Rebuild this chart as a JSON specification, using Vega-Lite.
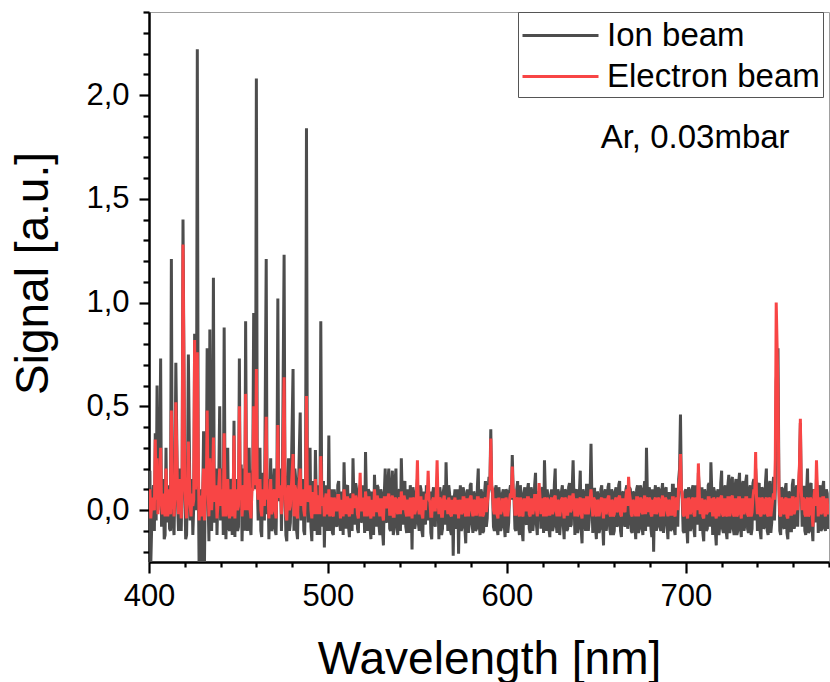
{
"$schema": "https://vega.github.io/schema/vega-lite/v6.json",
"width": 680, "height": 550,
"autosize": {"type": "none"},
"padding": {"left": 149, "top": 12, "right": 1, "bottom": 120},
"background": "white",
"config": {
  "font": "Liberation Sans",
  "view": {"stroke": "#a0a0a0", "strokeWidth": 1},
  "axis": {"domainColor": "black", "tickColor": "black", "labelColor": "black", "titleColor": "black", "grid": false, "labelFont": "Liberation Sans", "titleFont": "Liberation Sans", "titleFontWeight": "normal", "domainWidth": 2.5, "tickWidth": 2.2, "labelOverlap": false}
},
"data": {"values": [
{"x":400,"i":0.08,"e":0.02},{"x":400.5,"i":0.19,"e":0.10},{"x":401,"i":-0.26,"e":-0.04},{"x":402,"i":0.05,"e":0.06},{"x":403,"i":-0.1,"e":0.0},{"x":403.5,"i":0.37,"e":0.34},{"x":404,"i":-0.05,"e":0.05},{"x":404.5,"i":0.6,"e":0.25},{"x":405,"i":0.0,"e":-0.02},{"x":406,"i":0.2,"e":0.12},{"x":406.5,"i":0.73,"e":0.3},{"x":407,"i":-0.08,"e":0.02},{"x":408,"i":0.15,"e":0.08},{"x":409,"i":-0.12,"e":-0.03},{"x":409.5,"i":0.3,"e":0.2},{"x":410,"i":-0.06,"e":0.04},{"x":411,"i":0.12,"e":0.1},{"x":412,"i":-0.1,"e":-0.02},{"x":412.5,"i":1.21,"e":0.48},{"x":413,"i":0.05,"e":0.1},{"x":414,"i":-0.12,"e":-0.03},{"x":415,"i":0.71,"e":0.52},{"x":416,"i":0.02,"e":0.06},{"x":417,"i":0.2,"e":0.15},{"x":418,"i":-0.1,"e":-0.04},{"x":419,"i":1.40,"e":1.28},{"x":420,"i":0.1,"e":0.12},{"x":421,"i":-0.12,"e":-0.04},{"x":422,"i":0.75,"e":0.33},{"x":423,"i":-0.05,"e":0.02},{"x":424,"i":0.15,"e":0.08},{"x":425,"i":0.02,"e":0.05},{"x":425.5,"i":0.85,"e":0.82},{"x":426,"i":0.0,"e":0.1},{"x":427,"i":2.22,"e":0.76},{"x":427.5,"i":0.2,"e":0.3},{"x":428,"i":-0.27,"e":-0.05},{"x":429,"i":0.1,"e":0.05},{"x":429.5,"i":-0.3,"e":-0.03},{"x":430.5,"i":0.38,"e":0.2},{"x":431,"i":-0.25,"e":-0.05},{"x":432,"i":0.1,"e":0.08},{"x":432.5,"i":0.78,"e":0.48},{"x":433,"i":0.05,"e":0.1},{"x":434,"i":0.87,"e":0.25},{"x":435,"i":-0.1,"e":0.0},{"x":436,"i":1.12,"e":0.35},{"x":437,"i":0.0,"e":0.08},{"x":438,"i":-0.12,"e":-0.04},{"x":439,"i":0.15,"e":0.12},{"x":439.5,"i":0.5,"e":0.2},{"x":440,"i":-0.05,"e":0.02},{"x":441,"i":0.2,"e":0.1},{"x":442,"i":0.88,"e":0.37},{"x":443,"i":-0.14,"e":-0.03},{"x":444,"i":0.3,"e":0.15},{"x":445,"i":-0.1,"e":-0.04},{"x":446,"i":0.1,"e":0.08},{"x":447,"i":-0.02,"e":0.05},{"x":447.5,"i":0.43,"e":0.36},{"x":448,"i":-0.13,"e":-0.04},{"x":449,"i":0.12,"e":0.1},{"x":450,"i":-0.08,"e":0.02},{"x":450.5,"i":0.73,"e":0.5},{"x":451,"i":0.0,"e":0.05},{"x":452,"i":-0.15,"e":-0.03},{"x":453,"i":0.2,"e":0.12},{"x":454,"i":0.91,"e":0.56},{"x":455,"i":-0.1,"e":0.0},{"x":456,"i":0.3,"e":0.18},{"x":457,"i":-0.12,"e":-0.04},{"x":458,"i":0.2,"e":0.1},{"x":458.5,"i":0.95,"e":0.5},{"x":459,"i":0.9,"e":0.2},{"x":460,"i":2.08,"e":0.68},{"x":461,"i":-0.05,"e":0.05},{"x":462,"i":0.3,"e":0.15},{"x":463,"i":-0.13,"e":-0.03},{"x":464,"i":0.1,"e":0.08},{"x":465.5,"i":1.21,"e":0.45},{"x":466,"i":-0.02,"e":0.05},{"x":467,"i":-0.14,"e":-0.04},{"x":468,"i":0.25,"e":0.15},{"x":469,"i":-0.08,"e":0.0},{"x":470,"i":0.2,"e":0.1},{"x":471,"i":-0.12,"e":-0.04},{"x":472,"i":1.02,"e":0.41},{"x":473,"i":0.05,"e":0.08},{"x":474,"i":-0.1,"e":-0.02},{"x":475.5,"i":1.23,"e":0.64},{"x":476,"i":0.1,"e":0.15},{"x":477,"i":-0.15,"e":-0.05},{"x":478,"i":0.25,"e":0.12},{"x":479,"i":-0.06,"e":0.02},{"x":480.5,"i":0.68,"e":0.27},{"x":481,"i":-0.1,"e":-0.03},{"x":482,"i":0.15,"e":0.1},{"x":483,"i":-0.14,"e":-0.04},{"x":484.5,"i":0.47,"e":0.2},{"x":485,"i":-0.05,"e":0.02},{"x":486,"i":0.15,"e":0.1},{"x":487,"i":-0.12,"e":-0.03},{"x":488,"i":1.84,"e":0.55},{"x":489,"i":-0.06,"e":0.04},{"x":490,"i":0.3,"e":0.12},{"x":491,"i":-0.15,"e":-0.04},{"x":492,"i":0.12,"e":0.08},{"x":493,"i":0.29,"e":0.15},{"x":494,"i":-0.12,"e":-0.02},{"x":495,"i":0.1,"e":0.06},{"x":496,"i":0.91,"e":0.26},{"x":497,"i":-0.08,"e":0.02},{"x":498,"i":-0.18,"e":-0.03},{"x":499,"i":0.12,"e":0.08},{"x":500,"i":-0.06,"e":0.0},{"x":500.5,"i":0.36,"e":0.1},{"x":501,"i":-0.1,"e":-0.03},
{"x":502,"i":0.1,"e":0.06},{"x":503,"i":-0.12,"e":-0.03},{"x":504,"i":0.05,"e":0.04},{"x":505,"i":-0.08,"e":0.0},{"x":506,"i":0.14,"e":0.07},{"x":507,"i":-0.1,"e":-0.04},{"x":508,"i":0.06,"e":0.03},{"x":509,"i":0.23,"e":0.1},{"x":510,"i":-0.09,"e":-0.02},{"x":511,"i":0.12,"e":0.06},{"x":512,"i":-0.13,"e":-0.03},{"x":513,"i":0.08,"e":0.05},{"x":514,"i":0.25,"e":0.08},{"x":515,"i":-0.07,"e":0.01},{"x":516,"i":0.1,"e":0.05},{"x":517,"i":-0.11,"e":-0.04},{"x":518,"i":0.12,"e":0.18},{"x":519,"i":-0.05,"e":0.0},{"x":520,"i":0.06,"e":0.04},{"x":521,"i":0.28,"e":0.09},{"x":522,"i":-0.1,"e":-0.03},{"x":523,"i":0.09,"e":0.06},{"x":524,"i":-0.14,"e":-0.04},{"x":525,"i":0.05,"e":0.03},{"x":526,"i":0.17,"e":0.1},{"x":527,"i":-0.08,"e":-0.01},{"x":528,"i":0.11,"e":0.05},{"x":529,"i":-0.12,"e":-0.03},{"x":530,"i":0.08,"e":0.05},{"x":531,"i":-0.17,"e":-0.05},{"x":532,"i":0.2,"e":0.06},{"x":533,"i":-0.06,"e":0.02},{"x":534,"i":0.2,"e":0.08},{"x":535,"i":-0.1,"e":-0.02},{"x":536,"i":0.19,"e":0.07},{"x":537,"i":-0.09,"e":-0.03},{"x":538,"i":0.2,"e":0.05},{"x":539,"i":-0.12,"e":-0.02},{"x":540,"i":0.1,"e":0.06},{"x":541,"i":0.25,"e":0.09},{"x":542,"i":-0.07,"e":0.0},{"x":543,"i":0.14,"e":0.05},{"x":544,"i":-0.11,"e":-0.03},{"x":545,"i":0.07,"e":0.04},{"x":546,"i":0.12,"e":0.06},{"x":547,"i":-0.19,"e":-0.04},{"x":548,"i":0.08,"e":0.05},{"x":549,"i":-0.06,"e":0.0},{"x":550,"i":0.15,"e":0.24},{"x":551,"i":-0.1,"e":-0.02},{"x":552,"i":0.1,"e":0.06},{"x":553,"i":-0.13,"e":-0.04},{"x":554,"i":0.06,"e":0.03},{"x":555,"i":0.12,"e":0.08},{"x":556,"i":-0.05,"e":0.19},{"x":557,"i":0.09,"e":0.04},{"x":558,"i":-0.14,"e":-0.03},{"x":559,"i":0.11,"e":0.06},{"x":560,"i":-0.08,"e":0.0},{"x":561,"i":0.13,"e":0.24},{"x":562,"i":-0.14,"e":-0.02},{"x":563,"i":0.07,"e":0.05},{"x":564,"i":-0.09,"e":-0.03},{"x":565,"i":0.12,"e":0.07},{"x":566,"i":0.23,"e":0.05},{"x":567,"i":-0.1,"e":-0.02},{"x":568,"i":0.08,"e":0.04},{"x":569,"i":-0.12,"e":-0.03},{"x":570,"i":-0.22,"e":-0.02},{"x":571,"i":0.1,"e":0.06},{"x":572,"i":-0.07,"e":0.0},{"x":573,"i":-0.21,"e":-0.04},{"x":574,"i":0.12,"e":0.05},{"x":575,"i":-0.08,"e":-0.01},{"x":576,"i":0.09,"e":0.06},{"x":577,"i":-0.16,"e":-0.03},{"x":578,"i":0.1,"e":0.05},{"x":579,"i":-0.06,"e":0.01},{"x":580,"i":0.13,"e":0.07},{"x":581,"i":-0.11,"e":-0.03},{"x":582,"i":0.07,"e":0.04},{"x":583,"i":-0.09,"e":-0.02},{"x":584,"i":0.2,"e":0.06},{"x":585,"i":-0.12,"e":-0.03},{"x":586,"i":0.08,"e":0.05},{"x":587,"i":-0.1,"e":-0.02},{"x":588,"i":0.14,"e":0.06},{"x":589,"i":-0.04,"e":0.03},{"x":590,"i":0.16,"e":0.12},{"x":591,"i":0.39,"e":0.345},{"x":592,"i":0.08,"e":0.1},{"x":593,"i":-0.1,"e":-0.02},{"x":594,"i":0.12,"e":0.05},{"x":595,"i":-0.12,"e":-0.04},{"x":596,"i":0.07,"e":0.03},{"x":597,"i":-0.08,"e":0.0},{"x":598,"i":0.1,"e":0.05},{"x":599,"i":-0.13,"e":-0.03},{"x":600,"i":0.09,"e":0.04},
{"x":601,"i":-0.06,"e":0.01},{"x":602,"i":0.12,"e":0.08},{"x":603,"i":0.265,"e":0.21},{"x":604,"i":0.05,"e":0.1},{"x":605,"i":-0.1,"e":-0.02},{"x":606,"i":0.14,"e":0.06},{"x":607,"i":-0.12,"e":-0.03},{"x":608,"i":0.07,"e":0.04},{"x":609,"i":-0.15,"e":-0.03},{"x":610,"i":0.11,"e":0.05},{"x":611,"i":-0.07,"e":0.0},{"x":612,"i":0.13,"e":0.06},{"x":613,"i":-0.11,"e":-0.03},{"x":614,"i":0.09,"e":0.05},{"x":615,"i":-0.05,"e":0.01},{"x":616,"i":0.18,"e":0.07},{"x":617,"i":-0.12,"e":-0.03},{"x":618,"i":0.08,"e":0.13},{"x":619,"i":-0.09,"e":-0.02},{"x":620,"i":0.11,"e":0.05},{"x":621,"i":0.24,"e":0.06},{"x":622,"i":-0.1,"e":-0.03},{"x":623,"i":0.06,"e":0.04},{"x":624,"i":-0.13,"e":-0.02},{"x":625,"i":0.1,"e":0.06},{"x":626,"i":-0.08,"e":0.0},{"x":627,"i":0.2,"e":0.07},{"x":628,"i":-0.11,"e":-0.03},{"x":629,"i":0.08,"e":0.04},{"x":630,"i":-0.06,"e":0.0},{"x":631,"i":0.12,"e":0.06},{"x":632,"i":-0.14,"e":-0.04},{"x":633,"i":0.09,"e":0.05},{"x":634,"i":-0.09,"e":-0.02},{"x":635,"i":0.13,"e":0.07},{"x":636,"i":-0.07,"e":0.0},{"x":637,"i":0.24,"e":0.08},{"x":638,"i":-0.12,"e":-0.03},{"x":639,"i":0.1,"e":0.05},{"x":640,"i":-0.08,"e":-0.01},{"x":641,"i":0.19,"e":0.06},{"x":642,"i":-0.16,"e":-0.04},{"x":643,"i":0.08,"e":0.05},{"x":644,"i":-0.1,"e":-0.02},{"x":645,"i":0.12,"e":0.06},{"x":646,"i":-0.05,"e":0.02},{"x":647,"i":0.32,"e":0.1},{"x":648,"i":-0.11,"e":-0.03},{"x":649,"i":0.1,"e":0.05},{"x":650,"i":-0.14,"e":-0.03},{"x":651,"i":0.07,"e":0.04},{"x":652,"i":-0.09,"e":0.0},{"x":653,"i":0.12,"e":0.06},{"x":654,"i":-0.17,"e":-0.04},{"x":655,"i":0.1,"e":0.05},{"x":656,"i":-0.06,"e":0.01},{"x":657,"i":0.13,"e":0.07},{"x":658,"i":-0.12,"e":-0.03},{"x":659,"i":0.08,"e":0.04},{"x":660,"i":-0.1,"e":-0.02},{"x":661,"i":0.11,"e":0.06},{"x":662,"i":-0.07,"e":0.0},{"x":663,"i":0.14,"e":0.07},{"x":664,"i":-0.13,"e":-0.03},{"x":665,"i":0.09,"e":0.05},{"x":666,"i":-0.08,"e":-0.01},{"x":667,"i":0.12,"e":0.1},{"x":668,"i":-0.05,"e":0.16},{"x":669,"i":0.1,"e":0.05},{"x":670,"i":-0.11,"e":-0.03},{"x":671,"i":0.08,"e":0.04},{"x":672,"i":-0.14,"e":-0.03},{"x":673,"i":0.12,"e":0.06},{"x":674,"i":-0.09,"e":0.0},{"x":675,"i":0.1,"e":0.05},{"x":676,"i":-0.12,"e":-0.02},{"x":677,"i":0.14,"e":0.07},{"x":678,"i":0.3,"e":0.06},{"x":679,"i":-0.08,"e":-0.01},{"x":680,"i":0.09,"e":0.05},{"x":681,"i":-0.13,"e":-0.03},{"x":682,"i":-0.2,"e":-0.02},{"x":683,"i":0.12,"e":0.06},{"x":684,"i":-0.07,"e":0.0},{"x":685,"i":0.1,"e":0.05},{"x":686,"i":-0.1,"e":-0.03},{"x":687,"i":0.13,"e":0.07},{"x":688,"i":-0.06,"e":0.01},{"x":689,"i":0.11,"e":0.05},{"x":690,"i":-0.14,"e":-0.03},{"x":691,"i":0.08,"e":0.04},{"x":692,"i":-0.09,"e":-0.02},{"x":693,"i":0.12,"e":0.06},{"x":694,"i":-0.12,"e":-0.03},{"x":695,"i":0.1,"e":0.06},{"x":696,"i":0.15,"e":0.12},{"x":697,"i":0.46,"e":0.27},{"x":698,"i":0.05,"e":0.08},{"x":699,"i":-0.11,"e":-0.03},{"x":700,"i":0.1,"e":0.05},
{"x":701,"i":-0.16,"e":-0.04},{"x":702,"i":0.09,"e":0.04},{"x":703,"i":-0.08,"e":0.0},{"x":704,"i":0.12,"e":0.06},{"x":705,"i":-0.13,"e":-0.03},{"x":706,"i":0.1,"e":0.05},{"x":707,"i":0.18,"e":0.225},{"x":708,"i":-0.1,"e":-0.02},{"x":709,"i":0.11,"e":0.05},{"x":710,"i":-0.15,"e":-0.04},{"x":711,"i":0.08,"e":0.04},{"x":712,"i":-0.09,"e":-0.01},{"x":713,"i":0.13,"e":0.06},{"x":714,"i":0.23,"e":0.05},{"x":715,"i":-0.12,"e":-0.03},{"x":716,"i":0.09,"e":0.05},{"x":717,"i":-0.17,"e":-0.04},{"x":718,"i":0.1,"e":0.06},{"x":719,"i":-0.07,"e":0.0},{"x":720,"i":0.19,"e":0.07},{"x":721,"i":-0.11,"e":-0.03},{"x":722,"i":0.12,"e":0.05},{"x":723,"i":-0.14,"e":-0.03},{"x":724,"i":0.17,"e":0.06},{"x":725,"i":-0.08,"e":0.0},{"x":726,"i":0.16,"e":0.07},{"x":727,"i":-0.12,"e":-0.03},{"x":728,"i":0.15,"e":0.05},{"x":729,"i":-0.1,"e":-0.02},{"x":730,"i":0.18,"e":0.06},{"x":731,"i":-0.13,"e":-0.04},{"x":732,"i":0.14,"e":0.05},{"x":733,"i":-0.07,"e":0.0},{"x":734,"i":0.17,"e":0.06},{"x":735,"i":-0.11,"e":-0.03},{"x":736,"i":0.12,"e":0.05},{"x":737,"i":-0.09,"e":-0.01},{"x":738,"i":0.15,"e":0.1},{"x":739,"i":0.2,"e":0.28},{"x":740,"i":-0.1,"e":-0.02},{"x":741,"i":0.13,"e":0.06},{"x":742,"i":-0.14,"e":-0.03},{"x":743,"i":0.1,"e":0.05},{"x":744,"i":-0.08,"e":-0.01},{"x":745,"i":0.2,"e":0.06},{"x":746,"i":-0.12,"e":-0.03},{"x":747,"i":0.14,"e":0.05},{"x":748,"i":-0.06,"e":0.01},{"x":749,"i":0.16,"e":0.08},{"x":750,"i":0.1,"e":0.25},{"x":750.5,"i":0.62,"e":1.0},{"x":751.5,"i":0.78,"e":0.58},{"x":752,"i":0.15,"e":0.1},{"x":753,"i":-0.12,"e":-0.03},{"x":754,"i":0.1,"e":0.05},{"x":755,"i":-0.09,"e":-0.02},{"x":756,"i":0.13,"e":0.06},{"x":757,"i":-0.14,"e":-0.04},{"x":758,"i":0.08,"e":0.05},{"x":759,"i":-0.1,"e":-0.02},{"x":760,"i":0.15,"e":0.06},{"x":761,"i":-0.07,"e":0.0},{"x":762,"i":0.12,"e":0.06},{"x":763,"i":0.1,"e":0.12},{"x":764,"i":0.42,"e":0.44},{"x":765,"i":-0.08,"e":0.0},{"x":766,"i":0.11,"e":0.05},{"x":767,"i":-0.12,"e":-0.03},{"x":768,"i":0.2,"e":0.06},{"x":769,"i":-0.1,"e":-0.02},{"x":770,"i":0.13,"e":0.05},{"x":771,"i":-0.15,"e":-0.08},{"x":772,"i":0.09,"e":0.1},{"x":773,"i":0.15,"e":0.24},{"x":774,"i":-0.11,"e":-0.03},{"x":775,"i":0.12,"e":0.06},{"x":776,"i":-0.09,"e":-0.01},{"x":777,"i":0.14,"e":0.06},{"x":778,"i":-0.1,"e":-0.03},{"x":779,"i":0.08,"e":0.05},{"x":780,"i":-0.05,"e":0.0},
{"x":401.5,"i":-0.08,"e":0.03},{"x":402.5,"i":0.12,"e":0.02},{"x":405.5,"i":0.1,"e":0.06},{"x":407.5,"i":0.05,"e":-0.02},{"x":408.5,"i":-0.14,"e":0.0},{"x":410.5,"i":0.08,"e":-0.03},{"x":411.5,"i":-0.09,"e":0.02},{"x":413.5,"i":-0.06,"e":0.04},{"x":414.5,"i":0.15,"e":0.08},{"x":416.5,"i":-0.1,"e":-0.02},{"x":417.5,"i":-0.05,"e":0.05},{"x":418.5,"i":0.12,"e":0.1},{"x":420.5,"i":-0.14,"e":0.03},{"x":421.5,"i":0.13,"e":0.08},{"x":423.5,"i":0.08,"e":-0.03},{"x":424.5,"i":-0.12,"e":0.02},{"x":426.5,"i":0.15,"e":0.2},{"x":428.5,"i":0.05,"e":0.07},{"x":431.5,"i":0.15,"e":0.1},{"x":433.5,"i":-0.15,"e":-0.03},{"x":434.5,"i":0.1,"e":0.06},{"x":435.5,"i":0.18,"e":0.1},{"x":436.5,"i":-0.06,"e":0.04},{"x":437.5,"i":0.2,"e":0.12},{"x":438.5,"i":0.08,"e":0.02},{"x":440.5,"i":0.12,"e":0.08},{"x":441.5,"i":-0.12,"e":-0.03},{"x":442.5,"i":0.1,"e":0.1},{"x":443.5,"i":0.12,"e":0.06},{"x":444.5,"i":-0.08,"e":0.0},{"x":445.5,"i":0.15,"e":0.1},{"x":446.5,"i":-0.12,"e":-0.03},{"x":448.5,"i":0.15,"e":0.08},{"x":449.5,"i":-0.1,"e":0.0},{"x":451.5,"i":0.22,"e":0.12},{"x":452.5,"i":0.05,"e":0.06},{"x":453.5,"i":-0.1,"e":0.0},{"x":454.5,"i":0.1,"e":0.1},{"x":455.5,"i":0.12,"e":0.08},{"x":456.5,"i":-0.08,"e":0.0},{"x":457.5,"i":0.15,"e":0.1},{"x":459.5,"i":0.1,"e":0.12},{"x":460.5,"i":0.15,"e":0.1},{"x":461.5,"i":0.12,"e":0.08},{"x":462.5,"i":-0.1,"e":0.0},{"x":463.5,"i":0.18,"e":0.1},{"x":464.5,"i":-0.05,"e":0.02},{"x":466.5,"i":0.15,"e":0.1},{"x":467.5,"i":0.05,"e":0.06},{"x":468.5,"i":-0.1,"e":-0.02},{"x":469.5,"i":0.12,"e":0.08},{"x":470.5,"i":-0.1,"e":0.0},{"x":471.5,"i":0.15,"e":0.1},{"x":472.5,"i":0.05,"e":0.06},{"x":473.5,"i":0.2,"e":0.12},{"x":474.5,"i":0.1,"e":0.05},{"x":476.5,"i":-0.12,"e":-0.02},{"x":477.5,"i":0.12,"e":0.08},{"x":478.5,"i":-0.1,"e":0.0},{"x":479.5,"i":0.15,"e":0.1},{"x":481.5,"i":0.2,"e":0.12},{"x":482.5,"i":-0.1,"e":-0.02},{"x":483.5,"i":0.1,"e":0.08},{"x":485.5,"i":0.12,"e":0.08},{"x":486.5,"i":-0.1,"e":0.0},{"x":487.5,"i":0.15,"e":0.1},{"x":488.5,"i":0.1,"e":0.08},{"x":489.5,"i":0.12,"e":0.06},{"x":490.5,"i":-0.08,"e":0.0},{"x":491.5,"i":0.14,"e":0.08},{"x":492.5,"i":-0.1,"e":-0.02},{"x":493.5,"i":0.05,"e":0.05},{"x":494.5,"i":0.12,"e":0.07},{"x":495.5,"i":-0.12,"e":-0.02},{"x":496.5,"i":0.1,"e":0.08},{"x":497.5,"i":0.14,"e":0.06},{"x":498.5,"i":0.05,"e":0.05},{"x":499.5,"i":-0.1,"e":-0.02},
{"x":501.5,"i":0.08,"e":0.05},{"x":502.5,"i":-0.11,"e":-0.02},{"x":503.5,"i":0.1,"e":0.06},{"x":504.5,"i":-0.07,"e":0.0},{"x":505.5,"i":0.12,"e":0.07},{"x":506.5,"i":-0.05,"e":0.02},{"x":507.5,"i":0.09,"e":0.05},{"x":508.5,"i":-0.12,"e":-0.03},{"x":509.5,"i":0.04,"e":0.04},{"x":510.5,"i":0.11,"e":0.06},{"x":511.5,"i":-0.08,"e":-0.01},{"x":512.5,"i":0.07,"e":0.05},{"x":513.5,"i":-0.1,"e":-0.02},{"x":514.5,"i":0.05,"e":0.03},{"x":515.5,"i":0.13,"e":0.07},{"x":516.5,"i":-0.09,"e":-0.02},{"x":517.5,"i":0.08,"e":0.06},{"x":518.5,"i":-0.06,"e":0.0},{"x":519.5,"i":0.12,"e":0.06},{"x":520.5,"i":-0.11,"e":-0.03},{"x":521.5,"i":0.06,"e":0.04},{"x":522.5,"i":0.1,"e":0.06},{"x":523.5,"i":-0.08,"e":-0.01},{"x":524.5,"i":0.09,"e":0.05},{"x":525.5,"i":-0.12,"e":-0.03},{"x":526.5,"i":0.04,"e":0.03},{"x":527.5,"i":0.12,"e":0.07},{"x":528.5,"i":-0.07,"e":0.0},{"x":529.5,"i":0.1,"e":0.05},{"x":530.5,"i":-0.1,"e":-0.02},{"x":531.5,"i":0.08,"e":0.06},{"x":532.5,"i":-0.05,"e":0.01},{"x":533.5,"i":0.13,"e":0.06},{"x":534.5,"i":-0.09,"e":-0.02},{"x":535.5,"i":0.11,"e":0.05},{"x":536.5,"i":-0.12,"e":-0.03},{"x":537.5,"i":0.14,"e":0.06},{"x":538.5,"i":-0.06,"e":0.0},{"x":539.5,"i":0.09,"e":0.05},{"x":540.5,"i":-0.1,"e":-0.02},{"x":541.5,"i":0.07,"e":0.04},{"x":542.5,"i":0.12,"e":0.07},{"x":543.5,"i":-0.08,"e":-0.01},{"x":544.5,"i":0.1,"e":0.05},{"x":545.5,"i":-0.11,"e":-0.03},{"x":546.5,"i":0.05,"e":0.03},{"x":547.5,"i":0.11,"e":0.06},{"x":548.5,"i":-0.09,"e":-0.02},{"x":549.5,"i":0.08,"e":0.08},{"x":550.5,"i":-0.06,"e":0.02},{"x":551.5,"i":0.12,"e":0.06},{"x":552.5,"i":-0.1,"e":-0.02},{"x":553.5,"i":0.09,"e":0.05},{"x":554.5,"i":-0.07,"e":0.0},{"x":555.5,"i":0.1,"e":0.06},{"x":556.5,"i":0.06,"e":0.05},{"x":557.5,"i":-0.11,"e":-0.03},{"x":558.5,"i":0.08,"e":0.05},{"x":559.5,"i":-0.06,"e":0.0},{"x":560.5,"i":0.1,"e":0.08},{"x":561.5,"i":0.05,"e":0.05},{"x":562.5,"i":0.11,"e":0.06},{"x":563.5,"i":-0.12,"e":-0.03},{"x":564.5,"i":0.09,"e":0.05},{"x":565.5,"i":-0.07,"e":0.0},{"x":566.5,"i":0.06,"e":0.04},{"x":567.5,"i":0.12,"e":0.06},{"x":568.5,"i":-0.1,"e":-0.02},{"x":569.5,"i":0.07,"e":0.05},{"x":570.5,"i":0.05,"e":0.04},{"x":571.5,"i":-0.09,"e":-0.02},{"x":572.5,"i":0.1,"e":0.05},{"x":573.5,"i":0.04,"e":0.03},{"x":574.5,"i":-0.1,"e":-0.02},{"x":575.5,"i":0.11,"e":0.06},{"x":576.5,"i":-0.08,"e":-0.01},{"x":577.5,"i":0.07,"e":0.05},{"x":578.5,"i":-0.11,"e":-0.03},{"x":579.5,"i":0.12,"e":0.06},{"x":580.5,"i":-0.06,"e":0.0},{"x":581.5,"i":0.09,"e":0.05},{"x":582.5,"i":-0.1,"e":-0.02},{"x":583.5,"i":0.11,"e":0.06},{"x":584.5,"i":-0.07,"e":0.0},{"x":585.5,"i":0.1,"e":0.05},{"x":586.5,"i":-0.11,"e":-0.03},{"x":587.5,"i":0.08,"e":0.05},{"x":588.5,"i":-0.08,"e":-0.01},{"x":589.5,"i":0.1,"e":0.07},{"x":590.5,"i":0.12,"e":0.1},{"x":591.5,"i":0.1,"e":0.12},{"x":592.5,"i":-0.08,"e":0.0},{"x":593.5,"i":0.1,"e":0.05},{"x":594.5,"i":-0.09,"e":-0.02},{"x":595.5,"i":0.11,"e":0.06},{"x":596.5,"i":-0.1,"e":-0.02},{"x":597.5,"i":0.08,"e":0.05},{"x":598.5,"i":-0.07,"e":0.0},{"x":599.5,"i":0.1,"e":0.06},
{"x":600.5,"i":-0.11,"e":-0.03},{"x":601.5,"i":0.09,"e":0.05},{"x":602.5,"i":0.05,"e":0.06},{"x":603.5,"i":0.1,"e":0.08},{"x":604.5,"i":-0.09,"e":-0.02},{"x":605.5,"i":0.1,"e":0.05},{"x":606.5,"i":-0.08,"e":-0.01},{"x":607.5,"i":0.12,"e":0.06},{"x":608.5,"i":-0.1,"e":-0.02},{"x":609.5,"i":0.08,"e":0.05},{"x":610.5,"i":-0.06,"e":0.0},{"x":611.5,"i":0.1,"e":0.06},{"x":612.5,"i":-0.09,"e":-0.02},{"x":613.5,"i":0.11,"e":0.05},{"x":614.5,"i":-0.1,"e":-0.02},{"x":615.5,"i":0.12,"e":0.07},{"x":616.5,"i":-0.07,"e":0.0},{"x":617.5,"i":0.09,"e":0.05},{"x":618.5,"i":0.04,"e":0.06},{"x":619.5,"i":0.1,"e":0.05},{"x":620.5,"i":-0.11,"e":-0.03},{"x":621.5,"i":0.08,"e":0.05},{"x":622.5,"i":0.1,"e":0.06},{"x":623.5,"i":-0.09,"e":-0.02},{"x":624.5,"i":0.07,"e":0.05},{"x":625.5,"i":-0.1,"e":-0.02},{"x":626.5,"i":0.12,"e":0.06},{"x":627.5,"i":-0.06,"e":0.0},{"x":628.5,"i":0.1,"e":0.05},{"x":629.5,"i":-0.12,"e":-0.03},{"x":630.5,"i":0.09,"e":0.05},{"x":631.5,"i":-0.07,"e":0.0},{"x":632.5,"i":0.1,"e":0.06},{"x":633.5,"i":-0.1,"e":-0.02},{"x":634.5,"i":0.11,"e":0.05},{"x":635.5,"i":-0.08,"e":-0.01},{"x":636.5,"i":0.1,"e":0.06},{"x":637.5,"i":0.05,"e":0.04},{"x":638.5,"i":0.09,"e":0.05},{"x":639.5,"i":-0.11,"e":-0.03},{"x":640.5,"i":0.08,"e":0.05},{"x":641.5,"i":-0.09,"e":-0.02},{"x":642.5,"i":0.1,"e":0.05},{"x":643.5,"i":-0.07,"e":0.0},{"x":644.5,"i":0.12,"e":0.06},{"x":645.5,"i":-0.1,"e":-0.02},{"x":646.5,"i":0.08,"e":0.05},{"x":647.5,"i":0.06,"e":0.04},{"x":648.5,"i":0.1,"e":0.06},{"x":649.5,"i":-0.08,"e":-0.01},{"x":650.5,"i":0.09,"e":0.05},{"x":651.5,"i":-0.11,"e":-0.03},{"x":652.5,"i":0.1,"e":0.05},{"x":653.5,"i":-0.07,"e":0.0},{"x":654.5,"i":0.08,"e":0.05},{"x":655.5,"i":-0.1,"e":-0.02},{"x":656.5,"i":0.11,"e":0.06},{"x":657.5,"i":-0.09,"e":-0.02},{"x":658.5,"i":0.1,"e":0.05},{"x":659.5,"i":-0.12,"e":-0.03},{"x":660.5,"i":0.09,"e":0.05},{"x":661.5,"i":-0.08,"e":-0.01},{"x":662.5,"i":0.12,"e":0.06},{"x":663.5,"i":-0.1,"e":-0.02},{"x":664.5,"i":0.08,"e":0.05},{"x":665.5,"i":-0.06,"e":0.0},{"x":666.5,"i":0.1,"e":0.06},{"x":667.5,"i":-0.09,"e":0.02},{"x":668.5,"i":0.11,"e":0.08},{"x":669.5,"i":-0.1,"e":-0.02},{"x":670.5,"i":0.09,"e":0.05},{"x":671.5,"i":-0.07,"e":0.0},{"x":672.5,"i":0.1,"e":0.06},{"x":673.5,"i":-0.11,"e":-0.03},{"x":674.5,"i":0.12,"e":0.06},{"x":675.5,"i":-0.08,"e":-0.01},{"x":676.5,"i":0.1,"e":0.05},{"x":677.5,"i":-0.1,"e":-0.02},{"x":678.5,"i":0.08,"e":0.05},{"x":679.5,"i":0.11,"e":0.06},{"x":680.5,"i":-0.09,"e":-0.02},{"x":681.5,"i":0.1,"e":0.05},{"x":682.5,"i":0.07,"e":0.05},{"x":683.5,"i":-0.1,"e":-0.02},{"x":684.5,"i":0.11,"e":0.06},{"x":685.5,"i":-0.08,"e":-0.01},{"x":686.5,"i":0.09,"e":0.05},{"x":687.5,"i":-0.11,"e":-0.03},{"x":688.5,"i":0.1,"e":0.06},{"x":689.5,"i":-0.07,"e":0.0},{"x":690.5,"i":0.08,"e":0.05},{"x":691.5,"i":-0.1,"e":-0.02},{"x":692.5,"i":0.12,"e":0.06},{"x":693.5,"i":-0.09,"e":-0.02},{"x":694.5,"i":0.1,"e":0.05},{"x":695.5,"i":-0.08,"e":0.0},{"x":696.5,"i":0.2,"e":0.15},{"x":697.5,"i":0.1,"e":0.1},{"x":698.5,"i":-0.1,"e":-0.02},{"x":699.5,"i":0.09,"e":0.05},
{"x":700.5,"i":-0.08,"e":-0.01},{"x":701.5,"i":0.11,"e":0.06},{"x":702.5,"i":-0.1,"e":-0.02},{"x":703.5,"i":0.1,"e":0.05},{"x":704.5,"i":-0.09,"e":-0.02},{"x":705.5,"i":0.12,"e":0.06},{"x":706.5,"i":-0.07,"e":0.0},{"x":707.5,"i":0.1,"e":0.08},{"x":708.5,"i":0.08,"e":0.05},{"x":709.5,"i":-0.11,"e":-0.03},{"x":710.5,"i":0.1,"e":0.05},{"x":711.5,"i":-0.1,"e":-0.02},{"x":712.5,"i":0.12,"e":0.06},{"x":713.5,"i":-0.08,"e":-0.01},{"x":714.5,"i":0.09,"e":0.05},{"x":715.5,"i":0.11,"e":0.06},{"x":716.5,"i":-0.1,"e":-0.02},{"x":717.5,"i":0.08,"e":0.05},{"x":718.5,"i":-0.12,"e":-0.03},{"x":719.5,"i":0.13,"e":0.06},{"x":720.5,"i":-0.09,"e":-0.02},{"x":721.5,"i":0.1,"e":0.05},{"x":722.5,"i":-0.1,"e":-0.02},{"x":723.5,"i":0.12,"e":0.06},{"x":724.5,"i":-0.11,"e":-0.03},{"x":725.5,"i":0.14,"e":0.06},{"x":726.5,"i":-0.09,"e":-0.02},{"x":727.5,"i":0.11,"e":0.05},{"x":728.5,"i":-0.12,"e":-0.03},{"x":729.5,"i":0.13,"e":0.06},{"x":730.5,"i":-0.08,"e":-0.01},{"x":731.5,"i":0.12,"e":0.05},{"x":732.5,"i":-0.1,"e":-0.02},{"x":733.5,"i":0.14,"e":0.06},{"x":734.5,"i":-0.09,"e":-0.02},{"x":735.5,"i":0.1,"e":0.05},{"x":736.5,"i":-0.12,"e":-0.03},{"x":737.5,"i":0.13,"e":0.06},{"x":738.5,"i":-0.05,"e":0.08},{"x":739.5,"i":0.1,"e":0.06},{"x":740.5,"i":0.12,"e":0.05},{"x":741.5,"i":-0.1,"e":-0.02},{"x":742.5,"i":0.11,"e":0.06},{"x":743.5,"i":-0.09,"e":-0.02},{"x":744.5,"i":0.13,"e":0.05},{"x":745.5,"i":-0.1,"e":-0.02},{"x":746.5,"i":0.12,"e":0.06},{"x":747.5,"i":-0.11,"e":-0.03},{"x":748.5,"i":0.1,"e":0.05},{"x":749.5,"i":-0.05,"e":0.05},{"x":752.5,"i":-0.1,"e":-0.02},{"x":753.5,"i":0.11,"e":0.06},{"x":754.5,"i":-0.08,"e":-0.01},{"x":755.5,"i":0.1,"e":0.05},{"x":756.5,"i":-0.11,"e":-0.03},{"x":757.5,"i":0.09,"e":0.05},{"x":758.5,"i":-0.1,"e":-0.02},{"x":759.5,"i":0.12,"e":0.06},{"x":760.5,"i":-0.09,"e":-0.02},{"x":761.5,"i":0.1,"e":0.05},{"x":762.5,"i":-0.08,"e":0.0},{"x":763.5,"i":0.2,"e":0.22},{"x":764.5,"i":0.1,"e":0.1},{"x":765.5,"i":0.11,"e":0.06},{"x":766.5,"i":-0.1,"e":-0.02},{"x":767.5,"i":0.09,"e":0.05},{"x":768.5,"i":-0.11,"e":-0.03},{"x":769.5,"i":0.12,"e":0.06},{"x":770.5,"i":-0.08,"e":-0.01},{"x":771.5,"i":0.1,"e":0.05},{"x":772.5,"i":-0.06,"e":0.02},{"x":773.5,"i":0.08,"e":0.1},{"x":774.5,"i":0.1,"e":0.05},{"x":775.5,"i":-0.1,"e":-0.02},{"x":776.5,"i":0.11,"e":0.06},{"x":777.5,"i":-0.08,"e":-0.01},{"x":778.5,"i":0.1,"e":0.05},{"x":779.5,"i":-0.09,"e":-0.02}
]},
"layer": [
  {
    "mark": {"type": "line", "strokeWidth": 3, "clip": true},
    "encoding": {
      "x": {"field": "x", "type": "quantitative", "sort": "ascending",
        "scale": {"domain": [400, 780], "nice": false, "zero": false},
        "axis": {"title": "Wavelength [nm]", "titleFontSize": 46, "titleBaseline": "alphabetic", "titleY": 111,
          "values": [400,420,440,460,480,500,520,540,560,580,600,620,640,660,680,700,720,740,760,780],
          "labelExpr": "datum.value % 100 === 0 ? datum.label : ''",
          "labelFontSize": 31, "labelPadding": 8, "labelFlush": false, "labelOverlap": false,
          "tickSize": {"condition": {"test": "datum.value % 100 === 0", "value": 11}, "value": 5}}},
      "y": {"field": "i", "type": "quantitative",
        "scale": {"domain": [-0.25, 2.4], "nice": false, "zero": false},
        "axis": {"title": "Signal [a.u.]", "titleFontSize": 46, "titleAngle": -90, "titleAlign": "center", "titleBaseline": "alphabetic", "titleX": -102, "titleY": 261,
          "values": [-0.2,-0.1,0,0.1,0.2,0.3,0.4,0.5,0.6,0.7,0.8,0.9,1,1.1,1.2,1.3,1.4,1.5,1.6,1.7,1.8,1.9,2,2.1,2.2,2.3,2.4],
          "labelExpr": "abs(datum.value*2 - round(datum.value*2)) < 0.001 ? replace(format(datum.value, '.1f'), '.', ',') : ''",
          "labelFontSize": 31, "labelPadding": 10, "labelFlush": false, "labelOverlap": false,
          "tickSize": {"condition": {"test": "abs(datum.value*2 - round(datum.value*2)) < 0.001", "value": 10}, "value": 6}}},
      "color": {"datum": "Ion beam", "type": "nominal",
        "scale": {"domain": ["Ion beam", "Electron beam"], "range": ["#4d4d4d", "#f84545"]},
        "legend": {"orient": "none", "legendX": 369, "legendY": 0, "title": null, "symbolType": "M-2,0L2,0", "symbolStrokeWidth": 3, "symbolSize": 1444, "symbolOffset": 19, "labelFontSize": 33, "labelLimit": 400, "labelFont": "Liberation Sans", "labelColor": "black", "strokeColor": "#555555", "fillColor": "white", "padding": 3, "labelOffset": 26, "rowPadding": 3}}
    }
  },
  {
    "mark": {"type": "line", "strokeWidth": 3, "clip": true},
    "encoding": {
      "x": {"field": "x", "type": "quantitative", "sort": "ascending",
        "axis": {"title": "Wavelength [nm]", "titleFontSize": 46, "titleBaseline": "alphabetic", "titleY": 111,
          "values": [400,420,440,460,480,500,520,540,560,580,600,620,640,660,680,700,720,740,760,780],
          "labelExpr": "datum.value % 100 === 0 ? datum.label : ''",
          "labelFontSize": 31, "labelPadding": 8, "labelFlush": false, "labelOverlap": false,
          "tickSize": {"condition": {"test": "datum.value % 100 === 0", "value": 11}, "value": 5}}},
      "y": {"field": "e", "type": "quantitative",
        "axis": {"title": "Signal [a.u.]", "titleFontSize": 46, "titleAngle": -90, "titleAlign": "center", "titleBaseline": "alphabetic", "titleX": -102, "titleY": 261,
          "values": [-0.2,-0.1,0,0.1,0.2,0.3,0.4,0.5,0.6,0.7,0.8,0.9,1,1.1,1.2,1.3,1.4,1.5,1.6,1.7,1.8,1.9,2,2.1,2.2,2.3,2.4],
          "labelExpr": "abs(datum.value*2 - round(datum.value*2)) < 0.001 ? replace(format(datum.value, '.1f'), '.', ',') : ''",
          "labelFontSize": 31, "labelPadding": 10, "labelFlush": false, "labelOverlap": false,
          "tickSize": {"condition": {"test": "abs(datum.value*2 - round(datum.value*2)) < 0.001", "value": 10}, "value": 6}}},
      "color": {"datum": "Electron beam", "type": "nominal"}
    }
  },
  {
    "data": {"values": [{"t": "Ar, 0.03mbar"}]},
    "mark": {"type": "text", "fontSize": 33, "align": "left", "baseline": "alphabetic", "font": "Liberation Sans", "color": "black"},
    "encoding": {
      "x": {"datum": 652.4, "type": "quantitative",
        "axis": {"title": "Wavelength [nm]", "titleFontSize": 46, "titleBaseline": "alphabetic", "titleY": 111,
          "values": [400,420,440,460,480,500,520,540,560,580,600,620,640,660,680,700,720,740,760,780],
          "labelExpr": "datum.value % 100 === 0 ? datum.label : ''",
          "labelFontSize": 31, "labelPadding": 8, "labelFlush": false, "labelOverlap": false,
          "tickSize": {"condition": {"test": "datum.value % 100 === 0", "value": 11}, "value": 5}}},
      "y": {"datum": 1.745, "type": "quantitative",
        "axis": {"title": "Signal [a.u.]", "titleFontSize": 46, "titleAngle": -90, "titleAlign": "center", "titleBaseline": "alphabetic", "titleX": -102, "titleY": 261,
          "values": [-0.2,-0.1,0,0.1,0.2,0.3,0.4,0.5,0.6,0.7,0.8,0.9,1,1.1,1.2,1.3,1.4,1.5,1.6,1.7,1.8,1.9,2,2.1,2.2,2.3,2.4],
          "labelExpr": "abs(datum.value*2 - round(datum.value*2)) < 0.001 ? replace(format(datum.value, '.1f'), '.', ',') : ''",
          "labelFontSize": 31, "labelPadding": 10, "labelFlush": false, "labelOverlap": false,
          "tickSize": {"condition": {"test": "abs(datum.value*2 - round(datum.value*2)) < 0.001", "value": 10}, "value": 6}}},
      "text": {"field": "t"}
    }
  }
]
}
